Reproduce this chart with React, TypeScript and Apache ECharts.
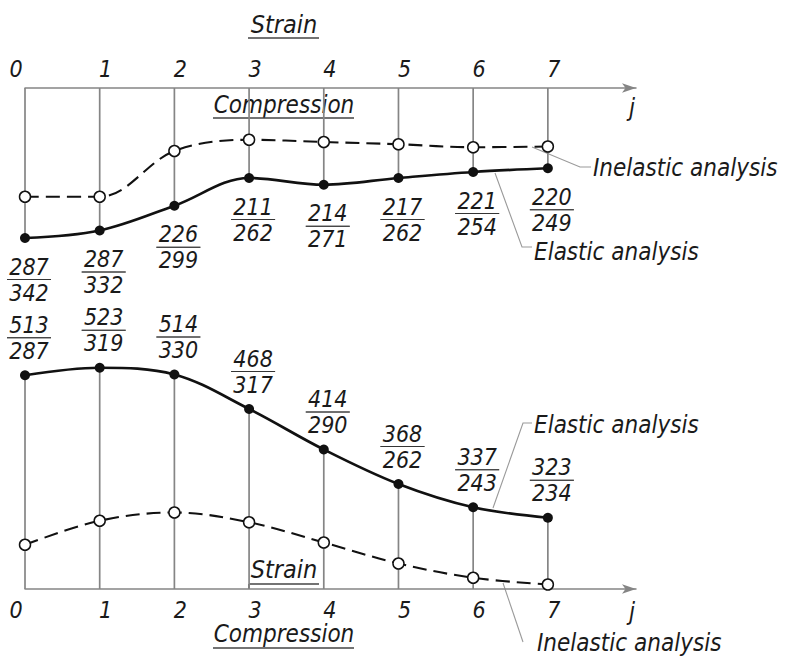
import React, { useEffect, useRef } from 'react';
import * as echarts from 'echarts';

// ---------- data ----------
const stations = [0, 1, 2, 3, 4, 5, 6, 7];
const tickLabels = ['0', '1', '2', '3', '4', '5', '6', '7'];
// top panel (strain): numerator = inelastic, denominator = elastic
const topInelastic = [287, 287, 226, 211, 214, 217, 221, 220];
const topElastic = [342, 332, 299, 262, 271, 262, 254, 249];
// bottom panel (compression): numerator = elastic, denominator = inelastic
const bottomElastic = [513, 523, 514, 468, 414, 368, 337, 323];
const bottomInelastic = [287, 319, 330, 317, 290, 262, 243, 234];

// axis baselines (value at the j-axis)
const TOP_BASE = 142;
const BOTTOM_BASE = 228;

const FONT = "'DejaVu Sans Condensed', 'DejaVu Sans', sans-serif";
const INK = '#1a1a1a';
const GREY = '#858585';

const fracRich = {
  n: { fontFamily: FONT, fontStyle: 'italic', fontSize: 23, color: INK, lineHeight: 23, align: 'center' },
  b: { width: 44, height: 0, borderColor: '#333', borderWidth: 0.9, align: 'center', lineHeight: 3 },
  d: { fontFamily: FONT, fontStyle: 'italic', fontSize: 23, color: INK, lineHeight: 23, align: 'center' },
};

const tickRich = {
  z: { fontFamily: FONT, fontStyle: 'italic', fontSize: 23, color: INK, lineHeight: 19, padding: [0, 18, 0, 0] },
  a: { fontFamily: FONT, fontStyle: 'italic', fontSize: 23, color: INK, lineHeight: 19, padding: [0, 0, 0, 12] },
};

function xAxisCfg(gridIndex: number, position: 'top' | 'bottom', margin: number) {
  return {
    gridIndex,
    type: 'value',
    position,
    min: 0,
    max: 8.18,
    interval: 1,
    axisLine: {
      show: true,
      symbol: ['none', 'arrow'],
      symbolSize: [7, 14],
      lineStyle: { color: GREY, width: 1.5 },
    },
    axisTick: { show: false },
    splitLine: { show: false },
    axisLabel: {
      margin,
      formatter: (v: number) => {
        const i = Math.round(v);
        if (i > 7) return '';
        return i === 0 ? `{z|${tickLabels[i]}}` : `{a|${tickLabels[i]}}`;
      },
      rich: tickRich,
    },
  };
}

function stemSeries(xi: number, values: number[], base: number) {
  return {
    type: 'custom',
    xAxisIndex: xi,
    yAxisIndex: xi,
    z: 1,
    silent: true,
    data: stations.map((s, i) => [s, values[i]]),
    renderItem: (_p: any, api: any) => {
      const x = api.value(0);
      const y = api.value(1);
      const p0 = api.coord([x, base]);
      const p1 = api.coord([x, y]);
      return {
        type: 'line',
        shape: { x1: p0[0], y1: p0[1], x2: p1[0], y2: p1[1] },
        style: { stroke: GREY, lineWidth: 1.7 },
      };
    },
  };
}

function textEl(text: string, x: number, y: number, align: string = 'left', size = 24) {
  return {
    type: 'text',
    x,
    y,
    silent: true,
    style: {
      text,
      fill: INK,
      fontFamily: FONT,
      fontStyle: 'italic',
      fontSize: size,
      lineHeight: 20,
      textAlign: align,
      textVerticalAlign: 'middle',
    },
  };
}

function lineEl(x1: number, y1: number, x2: number, y2: number, color = '#444', w = 1.6) {
  return { type: 'line', silent: true, shape: { x1, y1, x2, y2 }, style: { stroke: color, lineWidth: w } };
}

function leaderEl(points: number[][]) {
  return { type: 'polyline', silent: true, shape: { points }, style: { stroke: '#9a9a9a', lineWidth: 1.1, fill: null } };
}

export default function App() {
  const ref = useRef<HTMLDivElement>(null);

  useEffect(() => {
    if (!ref.current) return;
    const chart = echarts.init(ref.current, undefined, { renderer: 'svg' });

    const option: any = {
      animation: false,
      backgroundColor: '#ffffff',
      grid: [
        { left: 25, top: 88, width: 611, height: 165 },
        { left: 25, top: 349, width: 611, height: 240 },
      ],
      xAxis: [xAxisCfg(0, 'top', 10), xAxisCfg(1, 'bottom', 11)],
      yAxis: [
        { gridIndex: 0, type: 'value', inverse: true, min: TOP_BASE, max: TOP_BASE + 165 / 0.75, show: false },
        { gridIndex: 1, type: 'value', min: BOTTOM_BASE, max: BOTTOM_BASE + 240 / 0.75, show: false },
      ],
      series: [
        stemSeries(0, topElastic, TOP_BASE),
        stemSeries(1, bottomElastic, BOTTOM_BASE),
        {
          name: 'Inelastic analysis (strain)',
          type: 'line',
          xAxisIndex: 0,
          yAxisIndex: 0,
          z: 3,
          smooth: 0.35,
          clip: false,
          data: stations.map((s, i) => [s, topInelastic[i]]),
          symbol: 'circle',
          symbolSize: 11,
          itemStyle: { color: '#ffffff', borderColor: '#111', borderWidth: 1.5 },
          lineStyle: { color: '#111', width: 2.1, type: [14, 7] },
        },
        {
          name: 'Elastic analysis (strain)',
          type: 'line',
          xAxisIndex: 0,
          yAxisIndex: 0,
          z: 4,
          smooth: 0.35,
          clip: false,
          data: stations.map((s, i) => [s, topElastic[i]]),
          symbol: 'circle',
          symbolSize: 10,
          itemStyle: { color: '#111' },
          lineStyle: { color: '#111', width: 2.7 },
          label: {
            show: true,
            position: 'bottom',
            distance: 12,
            offset: [4, 0],
            formatter: (p: any) => `{n|${topInelastic[p.dataIndex]}}\n{b|}\n{d|${topElastic[p.dataIndex]}}`,
            rich: fracRich,
          },
        },
        {
          name: 'Inelastic analysis (compression)',
          type: 'line',
          xAxisIndex: 1,
          yAxisIndex: 1,
          z: 3,
          smooth: 0.35,
          clip: false,
          data: stations.map((s, i) => [s, bottomInelastic[i]]),
          symbol: 'circle',
          symbolSize: 11,
          itemStyle: { color: '#ffffff', borderColor: '#111', borderWidth: 1.5 },
          lineStyle: { color: '#111', width: 2.1, type: [14, 7] },
        },
        {
          name: 'Elastic analysis (compression)',
          type: 'line',
          xAxisIndex: 1,
          yAxisIndex: 1,
          z: 4,
          smooth: 0.35,
          clip: false,
          data: stations.map((s, i) => [s, bottomElastic[i]]),
          symbol: 'circle',
          symbolSize: 10,
          itemStyle: { color: '#111' },
          lineStyle: { color: '#111', width: 2.7 },
          label: {
            show: true,
            position: 'top',
            distance: 8,
            offset: [4, 0],
            formatter: (p: any) => `{n|${bottomElastic[p.dataIndex]}}\n{b|}\n{d|${bottomInelastic[p.dataIndex]}}`,
            rich: fracRich,
          },
        },
      ],
      graphic: {
        elements: [
          // top headings
          textEl('Strain', 284, 24, 'center', 25),
          lineEl(248, 38, 319, 38),
          textEl('Compression', 284, 105, 'center', 24),
          lineEl(213, 118, 354, 118),
          textEl('j', 632, 108, 'center', 24),
          // top annotations
          leaderEl([[532, 147], [580, 167], [591, 167]]),
          textEl('Inelastic analysis', 593, 168, 'left', 24),
          leaderEl([[495, 173], [522, 247], [532, 247]]),
          textEl('Elastic analysis', 534, 252, 'left', 24),
          // bottom headings
          textEl('Strain', 284, 569, 'center', 25),
          lineEl(249, 584, 319, 584),
          lineEl(249, 584, 249, 589),
          textEl('Compression', 284, 634, 'center', 24),
          lineEl(213, 648, 354, 648),
          textEl('j', 632, 612, 'center', 24),
          // bottom annotations
          leaderEl([[493, 508], [523, 423], [532, 423]]),
          textEl('Elastic analysis', 534, 425, 'left', 24),
          leaderEl([[503, 583], [523, 642]]),
          textEl('Inelastic analysis', 537, 643, 'left', 24),
        ],
      },
    };

    chart.setOption(option);
    return () => chart.dispose();
  }, []);

  return (
    <div
      ref={ref}
      style={{ position: 'absolute', left: 0, top: 0, width: 787, height: 657, background: '#fff' }}
    />
  );
}
